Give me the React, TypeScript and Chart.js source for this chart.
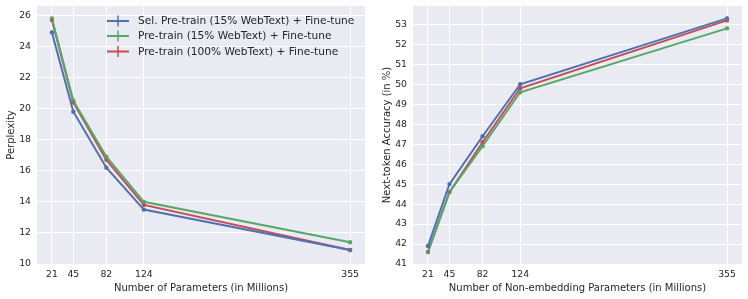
import React, { useEffect, useRef } from "react";
import { Chart, registerables } from "chart.js";

Chart.register(...registerables);

const xParams = [21, 45, 82, 124, 355];
const xTicks = [21, 45, 82, 124, 355];

const seriesNames = [
  "Sel. Pre-train (15% WebText) + Fine-tune",
  "Pre-train (15% WebText) + Fine-tune",
  "Pre-train (100% WebText) + Fine-tune",
];
const seriesColors = ["#4C72B0", "#55A868", "#C44E52"];

// Perplexity (left panel)
const pplSel = [24.9, 19.8, 16.2, 13.5, 10.9];
const ppl15 = [25.8, 20.5, 16.9, 14.0, 11.4];
const ppl100 = [25.7, 20.4, 16.7, 13.8, 10.9];
const pplErr = [0.12, 0.12, 0.12, 0.1, 0.1];

// Next-token accuracy (right panel)
const accSel = [41.9, 45.0, 47.4, 50.0, 53.3];
const acc15 = [41.6, 44.6, 46.9, 49.6, 52.8];
const acc100 = [41.6, 44.6, 47.1, 49.8, 53.2];
const accErr = [0.08, 0.08, 0.08, 0.08, 0.08];

const pplTicks = [10, 12, 14, 16, 18, 20, 22, 24, 26];
const accTicks = [41, 42, 43, 44, 45, 46, 47, 48, 49, 50, 51, 52, 53];

const FONT = "'DejaVu Sans', sans-serif";
const TXT = "#262626";

const bgPlugin = {
  id: "bg",
  beforeDraw(chart: any) {
    const { ctx, chartArea: a } = chart;
    ctx.save();
    ctx.fillStyle = "#EAEAF2";
    ctx.fillRect(a.left, a.top, a.right - a.left, a.bottom - a.top);
    ctx.restore();
  },
};

const errPlugin = {
  id: "errbars",
  afterDatasetsDraw(chart: any) {
    const { ctx } = chart;
    const ys = chart.scales.y;
    const xs = chart.scales.x;
    chart.data.datasets.forEach((ds: any) => {
      ctx.save();
      ctx.strokeStyle = ds.borderColor;
      ctx.lineWidth = 1.5;
      ds.data.forEach((p: any, i: number) => {
        const e = ds.err[i];
        const px = xs.getPixelForValue(p.x);
        ctx.beginPath();
        ctx.moveTo(px, ys.getPixelForValue(p.y - e));
        ctx.lineTo(px, ys.getPixelForValue(p.y + e));
        ctx.stroke();
      });
      ctx.restore();
    });
  },
};

const legendPlugin = {
  id: "customLegend",
  afterDraw(chart: any) {
    if (!chart.options.plugins.customLegend?.show) return;
    const { ctx } = chart;
    const x0 = 107;
    const rows = [21, 36, 51.5];
    ctx.save();
    chart.data.datasets.forEach((ds: any, i: number) => {
      const y = rows[i];
      ctx.strokeStyle = ds.borderColor;
      ctx.lineWidth = 2;
      ctx.beginPath();
      ctx.moveTo(x0, y);
      ctx.lineTo(x0 + 22, y);
      ctx.stroke();
      ctx.lineWidth = 1.5;
      ctx.beginPath();
      ctx.moveTo(x0 + 11, y - 5.5);
      ctx.lineTo(x0 + 11, y + 5.5);
      ctx.stroke();
      ctx.fillStyle = TXT;
      ctx.font = `10.6px ${FONT}`;
      ctx.textBaseline = "middle";
      ctx.textAlign = "left";
      ctx.fillText(ds.label, x0 + 31, y + 0.5);
    });
    ctx.restore();
  },
};

function makeDatasets(series: number[][], err: number[]) {
  return series.map((vals, i) => ({
    label: seriesNames[i],
    data: xParams.map((x, j) => ({ x, y: vals[j] })),
    err,
    borderColor: seriesColors[i],
    backgroundColor: seriesColors[i],
    borderWidth: 2,
    pointRadius: 2.2,
    pointBorderWidth: 0,
    pointHoverRadius: 2.2,
    tension: 0,
  }));
}

function makeConfig(opts: {
  series: number[][];
  err: number[];
  yMin: number;
  yMax: number;
  yTicks: number[];
  xTitle: string;
  yTitle: string;
  yWidth: number;
  yTitlePad: number;
  padRight: number;
  legend: boolean;
}) {
  return {
    type: "line" as const,
    data: { datasets: makeDatasets(opts.series, opts.err) },
    options: {
      animation: false,
      responsive: false,
      maintainAspectRatio: false,
      events: [],
      layout: { padding: { left: 0, top: 6, right: opts.padRight, bottom: 0 } },
      plugins: {
        legend: { display: false },
        tooltip: { enabled: false },
        customLegend: { show: opts.legend },
      },
      scales: {
        x: {
          type: "linear",
          min: 4.3,
          max: 371.7,
          afterBuildTicks: (s: any) => {
            s.ticks = xTicks.map((v) => ({ value: v }));
          },
          afterFit: (s: any) => {
            s.height = 35;
            s.paddingLeft = 0;
            s.paddingRight = 0;
          },
          grid: { color: "#ffffff", lineWidth: 1, drawTicks: false },
          border: { display: false },
          ticks: {
            font: { family: FONT, size: 9.3 },
            color: TXT,
            padding: 5,
            autoSkip: false,
            maxRotation: 0,
          },
          title: {
            display: true,
            text: opts.xTitle,
            color: TXT,
            font: { family: FONT, size: 10 },
            padding: { top: 0, bottom: 5 },
          },
        },
        y: {
          type: "linear",
          min: opts.yMin,
          max: opts.yMax,
          afterBuildTicks: (s: any) => {
            s.ticks = opts.yTicks.map((v) => ({ value: v }));
          },
          afterFit: (s: any) => {
            s.width = opts.yWidth;
            s.paddingTop = 0;
            s.paddingBottom = 0;
          },
          grid: { color: "#ffffff", lineWidth: 1, drawTicks: false },
          border: { display: false },
          ticks: {
            font: { family: FONT, size: 9.3 },
            color: TXT,
            padding: 6,
            autoSkip: false,
          },
          title: {
            display: true,
            text: opts.yTitle,
            color: TXT,
            font: { family: FONT, size: 10 },
            padding: { top: opts.yTitlePad, bottom: 0 },
          },
        },
      },
    },
    plugins: [bgPlugin, errPlugin, legendPlugin],
  };
}

export default function App() {
  const leftRef = useRef<HTMLCanvasElement>(null);
  const rightRef = useRef<HTMLCanvasElement>(null);

  useEffect(() => {
    document.body.style.margin = "0";
    const left = new Chart(
      leftRef.current as HTMLCanvasElement,
      makeConfig({
        series: [pplSel, ppl15, ppl100],
        err: pplErr,
        yMin: 10,
        yMax: 26.6,
        yTicks: pplTicks,
        xTitle: "Number of Parameters (in Millions)",
        yTitle: "Perplexity",
        yWidth: 37,
        yTitlePad: 5,
        padRight: 9,
        legend: true,
      }) as any
    );
    const right = new Chart(
      rightRef.current as HTMLCanvasElement,
      makeConfig({
        series: [accSel, acc15, acc100],
        err: accErr,
        yMin: 41.0,
        yMax: 53.92,
        yTicks: accTicks,
        xTitle: "Number of Non-embedding Parameters (in Millions)",
        yTitle: "Next-token Accuracy (in %)",
        yWidth: 39,
        yTitlePad: 7,
        padRight: 6,
        legend: false,
      }) as any
    );
    return () => {
      left.destroy();
      right.destroy();
    };
  }, []);

  return (
    <div style={{ position: "relative", width: 748, height: 299, background: "#fff" }}>
      <canvas
        ref={leftRef}
        width={374}
        height={299}
        style={{ position: "absolute", left: 0, top: 0, width: 374, height: 299 }}
      />
      <canvas
        ref={rightRef}
        width={374}
        height={299}
        style={{ position: "absolute", left: 374, top: 0, width: 374, height: 299 }}
      />
    </div>
  );
}
